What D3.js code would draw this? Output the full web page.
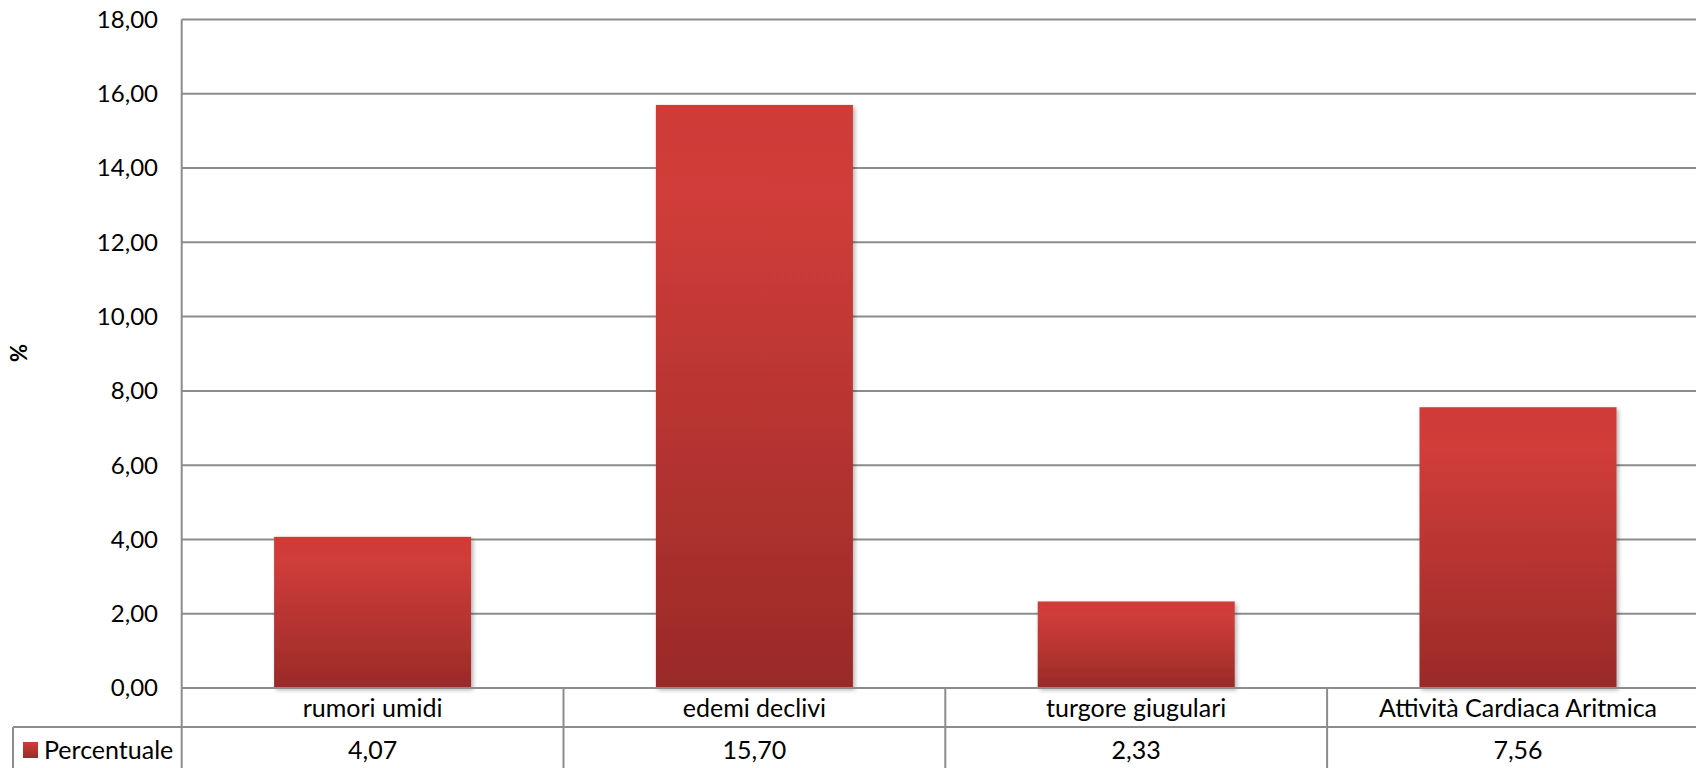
<!DOCTYPE html>
<html><head><meta charset="utf-8">
<script src="https://cdn.jsdelivr.net/npm/d3@7"></script>
<style>body{margin:0;background:#fff;overflow:hidden}svg{display:block}text{font-family:Lato,"Open Sans",sans-serif;fill:#000}</style>
</head><body>
<script>
const categories = ["rumori umidi", "edemi declivi", "turgore giugulari", "Attività Cardiaca Aritmica"];
const values = [4.07, 15.70, 2.33, 7.56];
const seriesName = "Percentuale";
const yTicks = [0, 2, 4, 6, 8, 10, 12, 14, 16, 18];
const yLabel = "%";

(function(){
const W = 1696, H = 768;
const plotLeft = 181.7, band = 381.8, plotTop = 19.5, zeroY = 688, rowY = 727, tableBottom = 770, legendLeft = 13;
const svg = d3.select("body").append("svg").attr("width", W).attr("height", H);
const defs = svg.append("defs");
const grad = defs.append("linearGradient").attr("id","g").attr("x1",0).attr("y1",0).attr("x2",0).attr("y2",1);
grad.append("stop").attr("offset","0").attr("stop-color","#cf3a36");
grad.append("stop").attr("offset","0.15").attr("stop-color","#d03d3a");
grad.append("stop").attr("offset","1").attr("stop-color","#9a2a28");
const f = defs.append("filter").attr("id","sh").attr("x","-10%").attr("y","-10%").attr("width","130%").attr("height","130%");
f.append("feDropShadow").attr("dx",2).attr("dy",2).attr("stdDeviation",2).attr("flood-color","#000").attr("flood-opacity",0.3);
const lg = defs.append("linearGradient").attr("id","lg").attr("x1",0).attr("y1",0).attr("x2",0).attr("y2",1);
lg.append("stop").attr("offset","0").attr("stop-color","#d03d3a");
lg.append("stop").attr("offset","1").attr("stop-color","#9a2a28");

const x = d3.scaleBand().domain(categories).range([plotLeft, plotLeft + band*categories.length]).padding(0);
const y = d3.scaleLinear().domain([0, 18]).range([zeroY, plotTop]);
const loc = d3.formatLocale({decimal: ",", thousands: ".", grouping: [3], currency: ["", "€"]});
const fmt = loc.format(".2f");
const gridColor = "#8c8c8c";

svg.append("g").selectAll("line").data(yTicks).join("line")
  .attr("x1", plotLeft).attr("x2", W).attr("y1", d => y(d)).attr("y2", d => y(d))
  .attr("stroke", gridColor).attr("stroke-width", 2);
svg.append("g").selectAll("text").data(yTicks).join("text")
  .attr("x", 158).attr("y", d => y(d)).attr("dy", "0.35em").attr("text-anchor", "end")
  .style("font-size", "24px").text(d => fmt(d));
svg.append("text").attr("transform", `translate(27,353) rotate(-90)`).attr("text-anchor","middle")
  .style("font-size","22px").style("font-weight","bold").text(yLabel);

const bw = band * 0.516;
svg.append("g").selectAll("rect").data(values).join("rect")
  .attr("x", (d,i) => x(categories[i]) + (band - bw)/2)
  .attr("width", bw)
  .attr("y", d => y(d)).attr("height", d => zeroY - y(d))
  .attr("fill", "url(#g)").attr("filter","url(#sh)");

const t = svg.append("g").attr("stroke", gridColor).attr("stroke-width", 2);
t.append("line").attr("x1", plotLeft).attr("x2", plotLeft).attr("y1", plotTop).attr("y2", tableBottom);
t.append("line").attr("x1", plotLeft).attr("x2", W).attr("y1", zeroY).attr("y2", zeroY);
t.append("line").attr("x1", legendLeft).attr("x2", W).attr("y1", rowY).attr("y2", rowY);
t.append("line").attr("x1", legendLeft).attr("x2", legendLeft).attr("y1", rowY).attr("y2", tableBottom);
t.selectAll(".div").data(categories.slice(1)).join("line")
  .attr("x1", d => x(d)).attr("x2", d => x(d)).attr("y1", zeroY).attr("y2", tableBottom);

svg.append("g").selectAll("text").data(categories).join("text")
  .attr("x", d => x(d) + band/2).attr("y", (zeroY + rowY)/2 + 1).attr("dy","0.35em")
  .attr("text-anchor","middle").style("font-size","25px").text(d => d);
svg.append("g").selectAll("text").data(values).join("text")
  .attr("x", (d,i) => x(categories[i]) + band/2).attr("y", 750).attr("dy","0.35em")
  .attr("text-anchor","middle").style("font-size","25px").text(d => fmt(d));

svg.append("rect").attr("x", 23).attr("y", 742).attr("width", 15).attr("height", 16).attr("fill","url(#lg)");
svg.append("text").attr("x", 44).attr("y", 750).attr("dy","0.35em").style("font-size","25px").text(seriesName);
})();
</script>
</body></html>
